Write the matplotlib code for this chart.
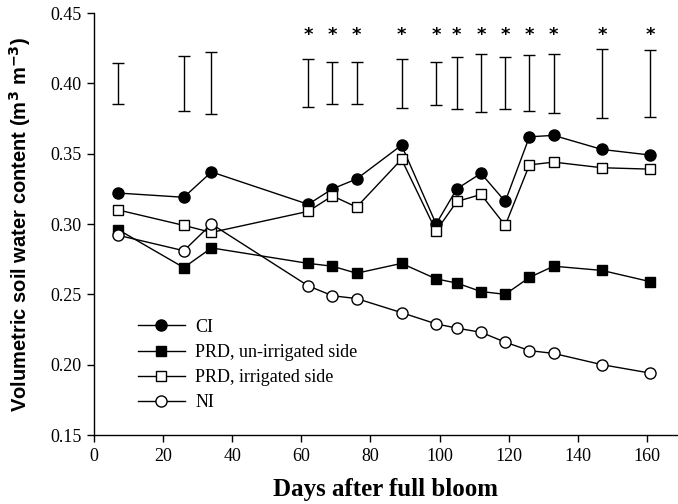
import matplotlib
matplotlib.use("Agg")
import matplotlib.pyplot as plt

# days after full bloom
days = [7, 26, 34, 62, 69, 76, 89, 99, 105, 112, 119, 126, 133, 147, 161]

ci = [0.322, 0.319, 0.337, 0.314, 0.325, 0.332, 0.356, 0.300, 0.325, 0.336,
      0.316, 0.362, 0.363, 0.353, 0.349]
prd_unirr = [0.296, 0.269, 0.283, 0.272, 0.270, 0.265, 0.272, 0.261, 0.258,
             0.252, 0.250, 0.262, 0.270, 0.267, 0.259]
prd_irr = [0.310, 0.299, 0.294, 0.309, 0.320, 0.312, 0.346, 0.295, 0.316,
           0.321, 0.299, 0.342, 0.344, 0.340, 0.339]
ni = [0.292, 0.281, 0.300, 0.256, 0.249, 0.247, 0.237, 0.229, 0.226, 0.223,
      0.216, 0.210, 0.208, 0.200, 0.194]

# LSD bars drawn around 0.40
lsd_center = 0.40
lsd = [0.029, 0.039, 0.044, 0.034, 0.030, 0.030, 0.035, 0.031, 0.037, 0.041,
       0.037, 0.040, 0.042, 0.049, 0.048]
signif = [False, False, False, True, True, True, True, True, True, True,
          True, True, True, True, True]

serif = ["Liberation Serif", "DejaVu Serif"]

fig = plt.figure(figsize=(6.78, 5.04), dpi=100)
ax = fig.add_axes([0.1386, 0.1369, 0.8614, 0.8373])

common = dict(color="black", lw=1.0, mec="black", mew=1.0)
ax.plot(days, ci, marker="o", ms=8, mfc="black", label="CI", **common)
ax.plot(days, prd_unirr, marker="s", ms=7, mfc="black",
        label="PRD, un-irrigated side", **common)
ax.plot(days, prd_irr, marker="s", ms=7, mfc="white",
        label="PRD, irrigated side", **common)
ax.plot(days, ni, marker="o", ms=8, mfc="white", label="NI", **common)

half = [v / 2 for v in lsd]
ax.errorbar(days, [lsd_center] * len(days), yerr=half, fmt="none",
            ecolor="black", elinewidth=1.0, capsize=4.5, capthick=1.0)
for d, s in zip(days, signif):
    if s:
        ax.text(d, 0.4345, "*", ha="center", va="center", fontsize=13,
                fontweight="bold", family="DejaVu Sans")

ax.set_xlim(0, 169)
ax.set_ylim(0.15, 0.45)
ax.set_xticks(range(0, 161, 20))
ax.set_yticks([0.15, 0.20, 0.25, 0.30, 0.35, 0.40, 0.45])
ax.set_yticklabels([f"{v:.2f}" for v in ax.get_yticks()])
for lab in ax.get_xticklabels() + ax.get_yticklabels():
    lab.set_family(serif)
    lab.set_fontsize(13)
ax.tick_params(direction="out", length=5, width=1.0, pad=4)
ax.spines["top"].set_visible(False)
ax.spines["right"].set_visible(False)
ax.spines["left"].set_linewidth(1.0)
ax.spines["bottom"].set_linewidth(1.0)

ax.set_xlabel("Days after full bloom", family=serif, fontsize=18,
              fontweight="bold", labelpad=10)
ax.set_ylabel("Volumetric soil water content (m$^{\\mathbf{3}}$ m$^{\\mathbf{-3}}$)",
              family=["Liberation Sans", "DejaVu Sans"], fontsize=14.5,
              fontweight="bold", labelpad=12)

ax.legend(loc="lower left", bbox_to_anchor=(0.047, 0.018), frameon=False,
          prop={"family": serif, "size": 13}, handlelength=2.6,
          labelspacing=0.45, handletextpad=0.6)

fig.savefig("out.png", dpi=100)
